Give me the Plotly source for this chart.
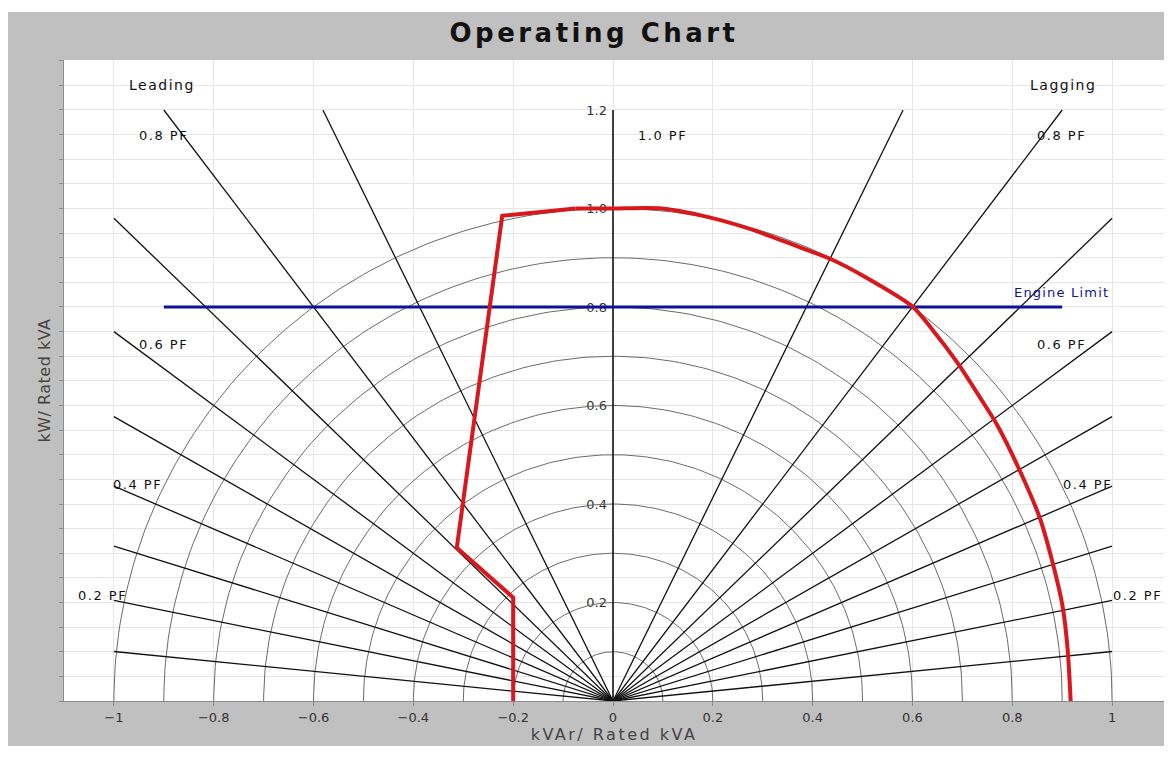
import numpy as np
import plotly.graph_objects as go

# ---------------- data ----------------
PF_VALUES = [0.1, 0.2, 0.3, 0.4, 0.5, 0.6, 0.7, 0.8, 0.9, 1.0]
ARC_RADII = [0.1, 0.2, 0.3, 0.4, 0.5, 0.6, 0.7, 0.8, 0.9, 1.0]

# leading-side (straight segments) part of the operating limit
LEAD_KVAR = [-0.20, -0.20, -0.313, -0.222, -0.075]
LEAD_KW = [0.00, 0.21, 0.311, 0.985, 1.00]
# lagging-side (curved) part of the operating limit
LAG_KVAR = [-0.075, 0.0, 0.098, 0.193, 0.279, 0.359, 0.437, 0.507, 0.600, 0.640,
            0.690, 0.738, 0.770, 0.814, 0.855, 0.881, 0.901, 0.911, 0.917]
LAG_KW = [1.00, 1.0, 1.0, 0.982, 0.957, 0.927, 0.897, 0.860, 0.801, 0.754,
          0.687, 0.612, 0.560, 0.470, 0.372, 0.280, 0.191, 0.104, 0.0]

ENGINE_KVAR = [-0.9, 0.9]
ENGINE_KW = [0.8, 0.8]

X_TICKS = [-1, -0.8, -0.6, -0.4, -0.2, 0, 0.2, 0.4, 0.6, 0.8, 1]
X_TICKTEXT = ["−1", "−0.8", "−0.6", "−0.4", "−0.2", "0", "0.2", "0.4", "0.6", "0.8", "1"]
Y_TICKS = [0.2, 0.4, 0.6, 0.8, 1.0, 1.2]
Y_TICKTEXT = ["0.2", "0.4", "0.6", "0.8", "1.0", "1.2"]

PF_LABELS = ["0.8 PF", "0.8 PF", "1.0 PF", "0.6 PF", "0.6 PF", "0.4 PF", "0.4 PF", "0.2 PF", "0.2 PF"]
PF_LABEL_X = [-0.90, 0.898, 0.10, -0.90, 0.898, -0.952, 0.95, -1.022, 1.05]
PF_LABEL_Y = [1.149, 1.149, 1.149, 0.723, 0.723, 0.439, 0.439, 0.215, 0.215]

SIDE_LABELS = ["Leading", "Lagging"]
SIDE_X = [-0.904, 0.902]
SIDE_Y = [1.251, 1.251]

# ---------------- layout constants ----------------
# figure is shown with the page's 8px body margin, so it is sized to end at the window edge
W, H = 1164, 749
ML, MR, MT, MB = 56, 8, 52, 56
XR = [-1.10, 1.104]
YR = [0.0, 1.3015]
FONT = "DejaVu Sans"
RED = "#d8181c"
BLUE = "#0b1396"


def sp(text, px):
    return f'<span style="letter-spacing:{px}px">{text}</span>'


fig = go.Figure()

# concentric kVA arcs
for r in ARC_RADII:
    t = np.linspace(0, np.pi, 181)
    fig.add_trace(go.Scatter(x=r * np.cos(t), y=r * np.sin(t), mode="lines",
                             line=dict(color="#6a6a6a", width=1), hoverinfo="skip",
                             showlegend=False))

# power-factor lines clipped to the box [-1,1] x [0,1.2]
for pf in PF_VALUES:
    phi = np.arccos(pf)
    s, c = np.sin(phi), np.cos(phi)
    lims = []
    if s > 1e-9:
        lims.append(1.0 / s)
    if c > 1e-9:
        lims.append(1.2 / c)
    L = min(lims)
    sides = [1] if pf == 1.0 else [-1, 1]
    for sg in sides:
        fig.add_trace(go.Scatter(x=[0, sg * s * L], y=[0, c * L], mode="lines",
                                 line=dict(color="#111111", width=1.6 if pf == 1.0 else 1.3),
                                 hoverinfo="skip", showlegend=False))

# engine limit
fig.add_trace(go.Scatter(x=ENGINE_KVAR, y=ENGINE_KW, mode="lines",
                         line=dict(color=BLUE, width=3), showlegend=False))

# operating limit curve
fig.add_trace(go.Scatter(x=LEAD_KVAR, y=LEAD_KW, mode="lines",
                         line=dict(color=RED, width=4), showlegend=False))
fig.add_trace(go.Scatter(x=LAG_KVAR, y=LAG_KW, mode="lines",
                         line=dict(color=RED, width=4, shape="spline", smoothing=0.7),
                         showlegend=False))

# invisible trace to activate yaxis2
fig.add_trace(go.Scatter(x=[0], y=[0], yaxis="y2", mode="markers",
                         marker=dict(opacity=0), hoverinfo="skip", showlegend=False))

ann = []
for t, x, y in zip(PF_LABELS, PF_LABEL_X, PF_LABEL_Y):
    ann.append(dict(x=x, y=y, xref="x", yref="y", text=sp(t, 1.5), showarrow=False,
                    font=dict(family=FONT, size=13, color="#111")))
for t, x, y in zip(SIDE_LABELS, SIDE_X, SIDE_Y):
    ann.append(dict(x=x, y=y, xref="x", yref="y", text=sp(t, 1.5), showarrow=False,
                    font=dict(family=FONT, size=14, color="#111")))
ann.append(dict(x=0.898, y=0.829, xref="x", yref="y", text=sp("Engine Limit", 1.2),
                showarrow=False, font=dict(family=FONT, size=13, color=BLUE)))

# white outer border strips (pixel -> paper conversion)
pw, ph = W - ML - MR, H - MT - MB


def px_x(px):
    return (px - ML) / pw


def px_y(py):
    return (H - MB - py) / ph


shapes = [
    dict(type="rect", xref="paper", yref="paper", x0=px_x(0), x1=px_x(W), y0=px_y(4), y1=px_y(0),
         fillcolor="white", line=dict(width=0), layer="below"),
    dict(type="rect", xref="paper", yref="paper", x0=px_x(0), x1=px_x(W), y0=px_y(H), y1=px_y(738),
         fillcolor="white", line=dict(width=0), layer="below"),
]

ypos = (0 - XR[0]) / (XR[1] - XR[0])

fig.update_layout(
    width=W, height=H,
    margin=dict(l=ML, r=MR, t=MT, b=MB, autoexpand=False),
    paper_bgcolor="#c0c0c0",
    plot_bgcolor="white",
    showlegend=False,
    title=dict(text="<b>" + sp("Operating Chart", 3.5) + "</b>", x=586 / W, xref="container",
               xanchor="center", y=1 - 25 / H, yref="container", yanchor="middle",
               font=dict(family=FONT, size=26, color="#111")),
    xaxis=dict(range=XR, tickvals=X_TICKS, ticktext=X_TICKTEXT, showgrid=True,
               gridcolor="#e6e6e6", gridwidth=1, zeroline=False, showline=True,
               linecolor="#8c8c8c", linewidth=1, ticks="outside", ticklen=4,
               tickcolor="#8c8c8c", tickfont=dict(family=FONT, size=13, color="#333"),
               title=dict(text=sp("kVAr/ Rated kVA", 2.5), standoff=4,
                          font=dict(family=FONT, size=16, color="#444")),
               fixedrange=True),
    yaxis=dict(range=YR, dtick=0.05, tick0=0, showticklabels=False, showgrid=True,
               gridcolor="#e6e6e6", gridwidth=1, zeroline=False, showline=True,
               linecolor="#8c8c8c", linewidth=1, ticks="outside", ticklen=4,
               tickcolor="#8c8c8c",
               title=dict(text=sp("kW/ Rated kVA", 0.5), standoff=4,
                          font=dict(family=FONT, size=16, color="#444")),
               fixedrange=True),
    yaxis2=dict(range=YR, overlaying="y", anchor="free", position=ypos, side="left",
                tickvals=Y_TICKS, ticktext=Y_TICKTEXT, showgrid=False, zeroline=False,
                showline=False, ticks="", ticklabelstandoff=6, layer="below traces",
                tickfont=dict(family=FONT, size=13, color="#333"), fixedrange=True),
    annotations=ann,
    shapes=shapes,
)

fig.write_html("out.html")
